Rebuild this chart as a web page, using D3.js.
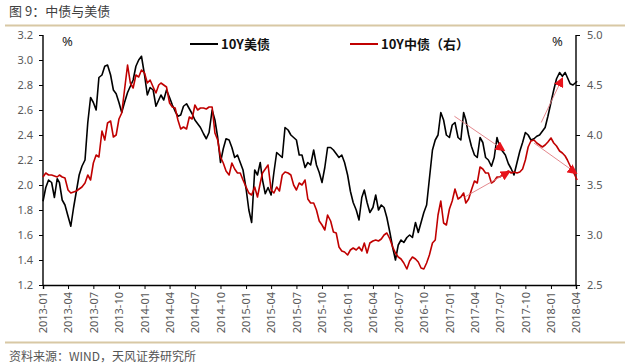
<!DOCTYPE html>
<html><head><meta charset="utf-8">
<script src="https://cdn.jsdelivr.net/npm/d3@7"></script>
<style>
html,body{margin:0;padding:0;background:#fff;}
svg{display:block;font-family:"Noto Sans","Noto Sans CJK SC",sans-serif;}
</style></head>
<body><svg id="c" width="630" height="364"></svg>
<script>
// ---- data ----
const startMonth = "2013-01";
const sampleDays = [1, 11, 21];
const lastDate = "2018-04-05";
const xTickLabels = ["2013-01","2013-04","2013-07","2013-10","2014-01","2014-04","2014-07","2014-10","2015-01","2015-04","2015-07","2015-10","2016-01","2016-04","2016-07","2016-10","2017-01","2017-04","2017-07","2017-10","2018-01","2018-04"];
const leftTicks = [1.2,1.4,1.6,1.8,2.0,2.2,2.4,2.6,2.8,3.0,3.2];
const rightTicks = [2.5,3.0,3.5,4.0,4.5,5.0];
const seriesNames = ["10Y美债","10Y中债（右）"];
const us10y = [
1.87,1.98,2.04, 2.02,1.90,2.05, 2.02,1.88,1.84, 1.75,1.67,1.82, 1.95,2.08,2.15, 2.20,2.50,2.70, 2.66,2.60,2.86, 2.88,2.95,2.96, 2.88,2.76,2.73, 2.66,2.58,2.66, 2.74,2.79,2.84, 2.95,3.00,3.03,
2.88,2.72,2.78, 2.76,2.63,2.68, 2.72,2.68,2.76, 2.70,2.64,2.59, 2.55,2.56,2.63, 2.65,2.61,2.57, 2.52,2.49,2.46, 2.41,2.37,2.42, 2.60,2.52,2.38, 2.18,2.29,2.37, 2.36,2.30,2.22, 2.24,2.18,2.12,
1.97,1.80,1.70, 2.12,2.08,2.18, 2.04,1.93,1.98, 1.92,2.10,2.26, 2.24,2.22,2.46, 2.44,2.40,2.38, 2.36,2.24,2.24, 2.14,2.18,2.16, 2.28,2.16,2.10, 2.02,2.14,2.30, 2.30,2.28,2.25, 2.22,2.24,2.18,
2.08,1.95,1.86, 1.80,1.72,1.90, 1.96,1.86,1.78, 1.82,1.92,1.80, 1.84,1.82,1.74, 1.62,1.50,1.40, 1.52,1.56,1.54, 1.58,1.60,1.58, 1.70,1.62,1.70, 1.78,1.84,2.05, 2.28,2.36,2.40, 2.58,2.52,2.40,
2.38,2.48,2.50, 2.38,2.36,2.58, 2.52,2.40,2.31, 2.24,2.22,2.38, 2.34,2.22,2.20, 2.15,2.22,2.38, 2.30,2.27,2.24, 2.17,2.13,2.08, 2.18,2.27,2.34, 2.42,2.40,2.36, 2.37,2.39,2.40, 2.43,2.46,2.55,
2.66,2.76,2.85, 2.90,2.87,2.90, 2.86,2.81,2.80, 2.83];
const cn10y = [
3.58,3.62,3.60, 3.60,3.59,3.58, 3.60,3.58,3.57, 3.45,3.42,3.43, 3.44,3.46,3.48, 3.52,3.60,3.55, 3.72,3.80,3.78, 4.04,3.95,4.12, 4.14,3.98,4.00, 4.16,4.22,4.45, 4.70,4.52,4.47, 4.60,4.58,4.65,
4.62,4.52,4.55, 4.48,4.42,4.50, 4.52,4.50,4.48, 4.32,4.28,4.27, 4.15,4.06,4.08, 4.06,4.18,4.16, 4.30,4.25,4.27, 4.27,4.26,4.28, 4.28,4.02,3.95, 3.78,3.72,3.64, 3.60,3.72,3.66, 3.62,3.62,3.55,
3.48,3.42,3.40, 3.48,3.38,3.52, 3.62,3.66,3.70, 3.45,3.42,3.48, 3.44,3.60,3.63, 3.62,3.60,3.50, 3.45,3.52,3.50, 3.55,3.36,3.32, 3.32,3.25,3.14, 3.10,3.05,3.20, 3.14,3.03,3.02, 2.88,2.84,2.83,
2.80,2.85,2.87, 2.85,2.88,2.84, 2.92,2.82,2.92, 2.94,2.95,2.94, 2.96,3.00,3.02, 2.96,2.88,2.82, 2.78,2.76,2.72, 2.66,2.74,2.78, 2.76,2.73,2.67, 2.66,2.72,2.80, 2.92,2.95,3.20, 3.34,3.12,3.10,
3.26,3.34,3.46, 3.36,3.38,3.42, 3.32,3.36,3.45, 3.54,3.52,3.68, 3.66,3.62,3.62, 3.52,3.54,3.58, 3.58,3.60,3.62, 3.64,3.62,3.63, 3.62,3.63,3.66, 3.75,3.88,3.94, 3.95,3.92,3.90, 3.88,3.90,3.93,
3.97,3.92,3.89, 3.84,3.82,3.79, 3.75,3.69,3.64, 3.55];
// trend arrows: [axis, startDate, startValue, endDate, endValue]
const arrowAxis = ["left","right","left","right"];
const arrowFrom = [["2017-01-19",2.55],["2017-02-25",3.38],["2017-11-27",2.50],["2017-11-01",3.92]];
const arrowTo   = [["2017-07-15",2.28],["2017-08-03",3.63],["2018-02-10",2.85],["2018-04-01",3.62]];

// ---- build dates ----
const parseM = d3.timeParse("%Y-%m"), parseD = d3.timeParse("%Y-%m-%d");
const dates = [];
let m0 = parseM(startMonth);
const nMonths = (us10y.length - 1) / sampleDays.length;
for (let i = 0; i < nMonths; i++) {
  const mm = d3.timeMonth.offset(m0, i);
  sampleDays.forEach(d => dates.push(new Date(mm.getFullYear(), mm.getMonth(), d)));
}
dates.push(parseD(lastDate));

// ---- layout ----
const svg = d3.select("#c");
const W = 630, H = 364;
svg.append("rect").attr("width", W).attr("height", H).attr("fill", "#fff");
const x0 = 43, x1 = 576, yTop = 35, yBot = 285;
const x = d3.scaleTime().domain([parseM("2013-01"), parseM("2018-04")]).range([x0, x1]);
const yL = d3.scaleLinear().domain([1.2, 3.2]).range([yBot, yTop]);
const yR = d3.scaleLinear().domain([2.5, 5.0]).range([yBot, yTop]);

// title & decor
svg.append("text").attr("x", 9).attr("y", 16).attr("font-size", 13).attr("fill", "#404040")
  .attr("font-family", "Noto Sans CJK SC").text("图 9：中债与美债");
svg.append("line").attr("x1", 5).attr("x2", 625).attr("y1", 25.5).attr("y2", 25.5)
  .attr("stroke", "#d8c8a4").attr("stroke-width", 2);
svg.append("line").attr("x1", 5).attr("x2", 625).attr("y1", 342.5).attr("y2", 342.5)
  .attr("stroke", "#d8c8a4").attr("stroke-width", 2);
svg.append("text").attr("x", 9).attr("y", 361).attr("font-size", 12).attr("fill", "#555")
  .attr("font-family", "Noto Sans CJK SC").text("资料来源：WIND，天风证券研究所");

// axes
const tickColor = "#595959";
const gL = svg.append("g").attr("transform", `translate(${x0},0)`)
  .call(d3.axisLeft(yL).tickValues(leftTicks).tickFormat(d3.format(".1f")).tickSize(4).tickPadding(6));
const gR = svg.append("g").attr("transform", `translate(${x1},0)`)
  .call(d3.axisRight(yR).tickValues(rightTicks).tickFormat(d3.format(".1f")).tickSize(4).tickPadding(7));
const gX = svg.append("g").attr("transform", `translate(0,${yBot})`)
  .call(d3.axisBottom(x).tickValues(xTickLabels.map(parseM)).tickFormat(d3.timeFormat("%Y-%m")).tickSize(4));
[gL, gR, gX].forEach(g => {
  g.select(".domain").attr("stroke", "#000").attr("stroke-width", 1.4);
  g.selectAll(".tick line").attr("stroke", "#000").attr("stroke-width", 1);
  g.selectAll("text").attr("fill", tickColor).attr("font-size", 11).attr("font-family", "Noto Sans");
});
gL.select(".domain").attr("d", `M-0,${yTop}V${yBot}`);
gR.select(".domain").attr("d", `M0,${yTop}V${yBot}`);
gX.selectAll("text").attr("transform", "rotate(-90)").attr("text-anchor", "end")
  .attr("x", -7).attr("y", 0).attr("dy", "0.35em");

// unit labels
svg.append("text").attr("x", 62).attr("y", 46).attr("font-size", 13).attr("fill", "#222").text("%");
svg.append("text").attr("x", 552).attr("y", 46).attr("font-size", 13).attr("fill", "#222").text("%");

// lines
const idx = d3.range(dates.length);
const lineUS = d3.line().x(i => x(dates[i])).y(i => yL(us10y[i]));
const lineCN = d3.line().x(i => x(dates[i])).y(i => yR(cn10y[i]));
svg.append("path").attr("d", lineUS(idx)).attr("fill", "none").attr("stroke", "#000").attr("stroke-width", 1.6).attr("stroke-linejoin", "round");
svg.append("path").attr("d", lineCN(idx)).attr("fill", "none").attr("stroke", "#c00000").attr("stroke-width", 1.6).attr("stroke-linejoin", "round");

// arrows
const defs = svg.append("defs");
defs.append("marker").attr("id", "ah").attr("viewBox", "0 0 10 10").attr("refX", 8).attr("refY", 5)
  .attr("markerWidth", 10).attr("markerHeight", 10).attr("markerUnits", "userSpaceOnUse").attr("orient", "auto")
  .append("path").attr("d", "M0,0L10,5L0,10Z").attr("fill", "#e8141c");
arrowAxis.forEach((ax, i) => {
  const ys = ax === "left" ? yL : yR;
  svg.append("line")
    .attr("x1", x(parseD(arrowFrom[i][0]))).attr("y1", ys(arrowFrom[i][1]))
    .attr("x2", x(parseD(arrowTo[i][0]))).attr("y2", ys(arrowTo[i][1]))
    .attr("stroke", "#e07a80").attr("stroke-width", 0.9).attr("marker-end", "url(#ah)");
});

// legend
const leg = [{c: "#000", x: 190, t: seriesNames[0]}, {c: "#c00000", x: 350, t: seriesNames[1]}];
leg.forEach(l => {
  svg.append("line").attr("x1", l.x).attr("x2", l.x + 28).attr("y1", 44).attr("y2", 44)
    .attr("stroke", l.c).attr("stroke-width", 2);
  svg.append("text").attr("x", l.x + 31).attr("y", 49).attr("font-size", 13).attr("font-weight", "bold")
    .attr("fill", "#111").attr("font-family", "Noto Sans CJK SC").text(l.t);
});
</script></body></html>
